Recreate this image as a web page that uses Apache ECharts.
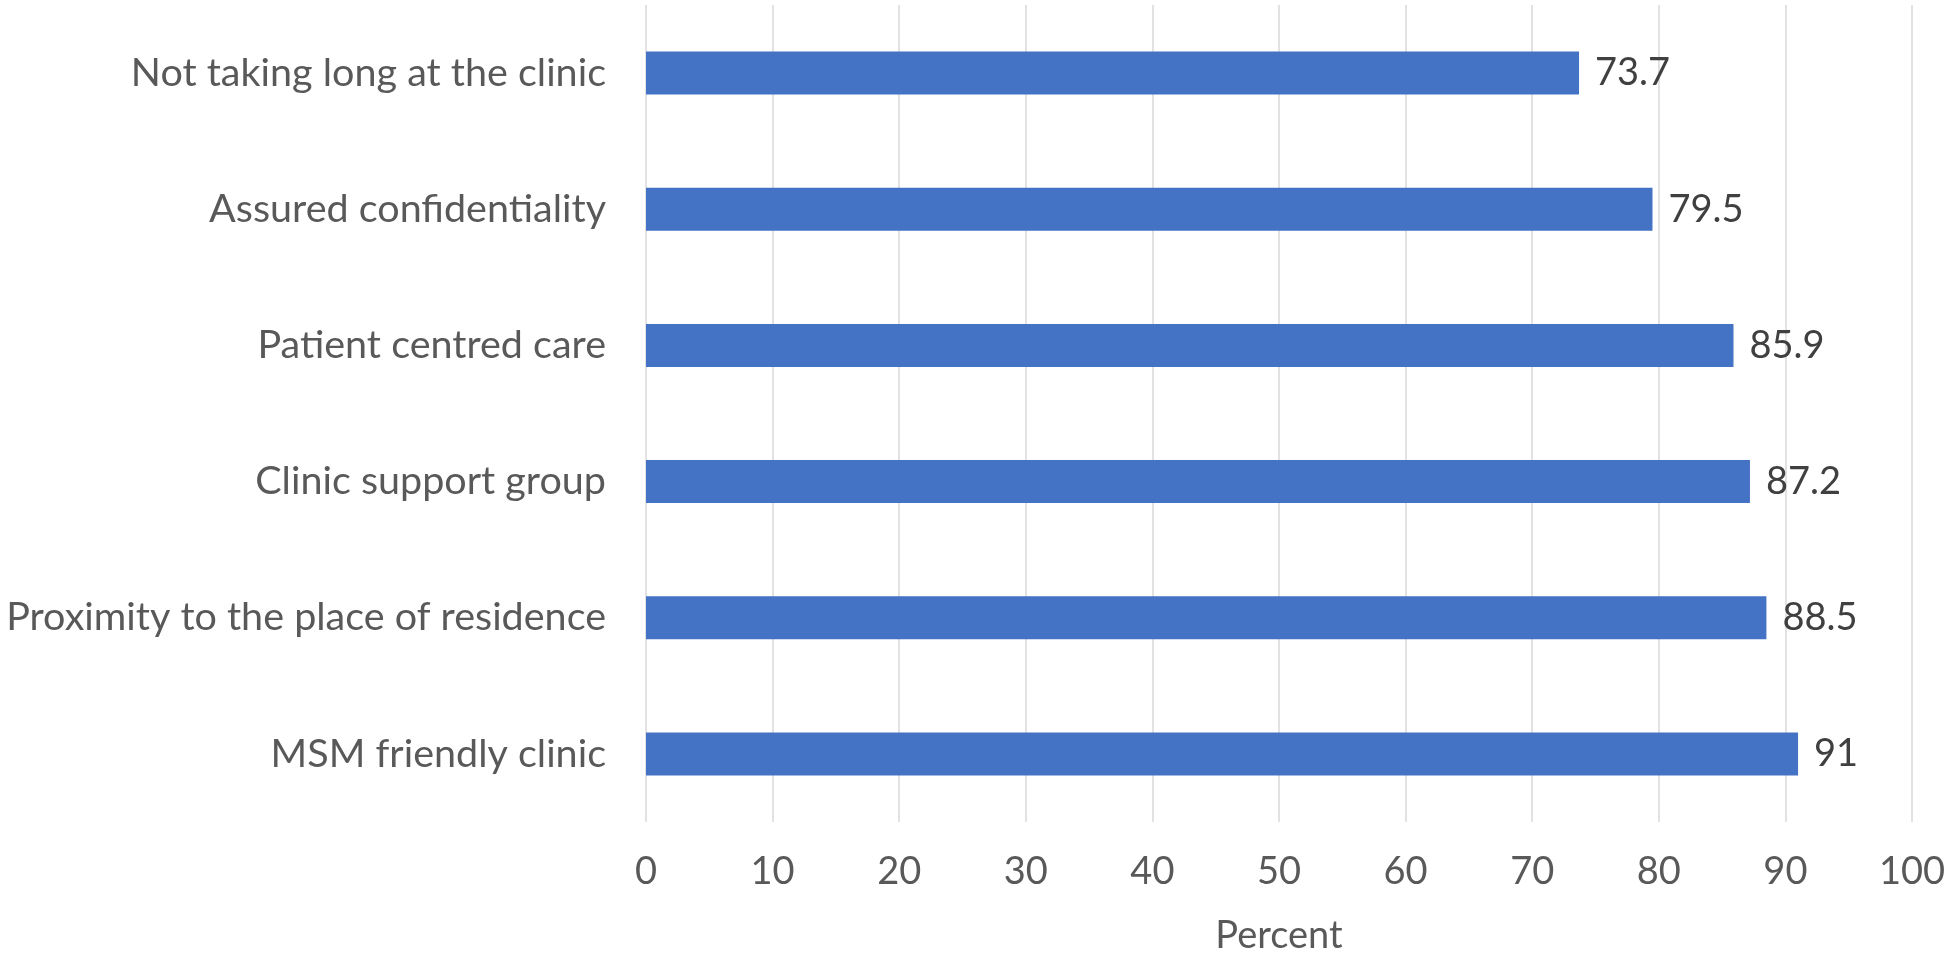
<!DOCTYPE html>
<html>
<head>
<meta charset="utf-8">
<script src="https://cdn.jsdelivr.net/npm/echarts@6/dist/echarts.min.js"></script>
<style>
  html, body { margin: 0; padding: 0; background: #fff; }
  #chart { width: 1947px; height: 955px; }
</style>
</head>
<body>
<div id="chart"></div>
<script>
// categories, top to bottom
const categories = [
  'Not taking long at the clinic',
  'Assured confidentiality',
  'Patient centred care',
  'Clinic support group',
  'Proximity to the place of residence',
  'MSM friendly clinic'
];
const percentValues = [73.7, 79.5, 85.9, 87.2, 88.5, 91];
const xTicks = [0, 10, 20, 30, 40, 50, 60, 70, 80, 90, 100];

const chart = echarts.init(document.getElementById('chart'));
const font = 'Lato, "Open Sans", sans-serif';

const option = {
  animation: false,
  grid: {
    left: 646,
    right: 35,
    top: 5,
    bottom: 133,
    containLabel: false,
    outerBoundsMode: 'none'
  },
  xAxis: {
    type: 'value',
    min: xTicks[0],
    max: xTicks[xTicks.length - 1],
    interval: 10,
    name: 'Percent',
    nameLocation: 'middle',
    nameGap: 95,
    nameTextStyle: { color: '#595959', fontSize: 38, fontFamily: font },
    axisLine: { show: false },
    axisTick: { show: false },
    axisLabel: { color: '#595959', fontSize: 38, fontFamily: font, margin: 31 },
    splitLine: { show: true, lineStyle: { color: '#d9d9d9', width: 1.5 } }
  },
  yAxis: {
    type: 'category',
    inverse: true,
    data: categories,
    axisLine: { show: false },
    axisTick: { show: false },
    axisLabel: { color: '#595959', fontSize: 39.5, fontFamily: font, margin: 40 }
  },
  series: [{
    type: 'bar',
    data: percentValues,
    barWidth: 43,
    itemStyle: { color: '#4472C4' },
    label: {
      show: true,
      position: 'right',
      distance: 16,
      color: '#404040',
      fontSize: 38,
      fontFamily: font
    }
  }]
};

chart.setOption(option);
</script>
</body>
</html>
